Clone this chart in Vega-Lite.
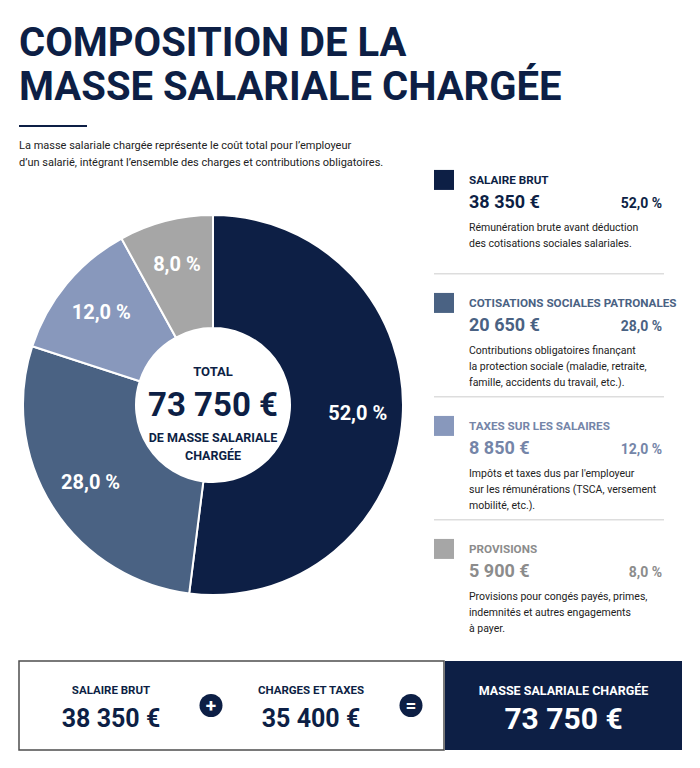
{
  "$schema": "https://vega.github.io/schema/vega-lite/v6.json",
  "background": "white",
  "padding": {"left": 18, "top": 24, "right": 10, "bottom": 10},
  "datasets": {
    "parts": [
      {"cat": "SALAIRE BRUT", "value": 52, "amount": "38 350 €", "pct": "52,0 %", "desc": ["Rémunération brute avant déduction", "des cotisations sociales salariales."]},
      {"cat": "COTISATIONS SOCIALES PATRONALES", "value": 28, "amount": "20 650 €", "pct": "28,0 %", "desc": ["Contributions obligatoires finançant", "la protection sociale (maladie, retraite,", "famille, accidents du travail, etc.)."]},
      {"cat": "TAXES SUR LES SALAIRES", "value": 12, "amount": "8 850 €", "pct": "12,0 %", "desc": ["Impôts et taxes dus par l'employeur", "sur les rémunérations (TSCA, versement", "mobilité, etc.)."]},
      {"cat": "PROVISIONS", "value": 8, "amount": "5 900 €", "pct": "8,0 %", "desc": ["Provisions pour congés payés, primes,", "indemnités et autres engagements", "à payer."]}
    ],
    "center": [{"label": "TOTAL", "amount": "73 750 €", "caption": ["DE MASSE SALARIALE", "CHARGÉE"]}],
    "banner": [
      {"item": "SALAIRE BRUT", "kind": "part", "amount": "38 350 €"},
      {"item": "+", "kind": "op"},
      {"item": "CHARGES ET TAXES", "kind": "part", "amount": "35 400 €"},
      {"item": "=", "kind": "op"}
    ],
    "result": [{"label": "MASSE SALARIALE CHARGÉE", "amount": "73 750 €"}],
    "underline": [{"name": "underline"}]
  },
  "title": {
    "text": ["COMPOSITION DE LA", "MASSE SALARIALE CHARGÉE"],
    "anchor": "start",
    "frame": "group",
    "font": "Roboto",
    "fontSize": 40,
    "fontWeight": "bold",
    "color": "#0d1f45",
    "lineHeight": 44,
    "offset": 17
  },
  "spacing": 0,
  "vconcat": [
    {
      "data": {"name": "underline"},
      "width": 68,
      "height": 2,
      "view": {"fill": "#0d1f45", "stroke": null},
      "mark": {"type": "rect", "color": "#0d1f45"},
      "encoding": {},
      "title": {
        "text": ["La masse salariale chargée représente le coût total pour l’employeur", "d’un salarié, intégrant l’ensemble des charges et contributions obligatoires."],
        "orient": "bottom",
        "anchor": "start",
        "frame": "bounds",
        "font": "Roboto",
        "fontSize": 11,
        "fontWeight": "normal",
        "color": "#222222",
        "lineHeight": 17,
        "offset": 13
      }
    },
    {
      "spacing": 26,
      "hconcat": [
        {
          "width": 388,
          "height": 474,
          "layer": [
            {
              "data": {"name": "parts"},
              "mark": {"type": "arc", "outerRadius": 190, "innerRadius": 77, "stroke": "white", "strokeWidth": 2},
              "encoding": {
                "theta": {"field": "value", "type": "quantitative", "stack": true},
                "order": {"field": "value", "sort": "descending"},
                "color": {"field": "cat", "type": "nominal", "legend": null,
                  "scale": {"domain": ["SALAIRE BRUT", "COTISATIONS SOCIALES PATRONALES", "TAXES SUR LES SALAIRES", "PROVISIONS"], "range": ["#0d1f45", "#4a6283", "#8898bc", "#a6a6a6"]}}
              }
            },
            {
              "data": {"name": "parts"},
              "mark": {"type": "text", "radius": 145, "fill": "white", "fontSize": 20, "fontWeight": "bold"},
              "encoding": {
                "theta": {"field": "value", "type": "quantitative", "stack": true},
                "order": {"field": "value", "sort": "descending"},
                "text": {"field": "pct"}
              }
            },
            {
              "data": {"name": "center"},
              "mark": {"type": "text", "dy": -33, "fontSize": 13, "fontWeight": "bold", "fill": "#0d1f45"},
              "encoding": {"text": {"field": "label"}}
            },
            {
              "data": {"name": "center"},
              "mark": {"type": "text", "dy": 1, "fontSize": 33, "fontWeight": "bold", "fill": "#0d1f45"},
              "encoding": {"text": {"field": "amount"}}
            },
            {
              "data": {"name": "center"},
              "mark": {"type": "text", "dy": 27, "baseline": "top", "lineHeight": 18, "fontSize": 12.5, "fontWeight": "bold", "fill": "#0d1f45"},
              "encoding": {"text": {"field": "caption"}}
            }
          ]
        },
        {
          "width": 230,
          "height": 492,
          "data": {"name": "parts"},
          "layer": [
            {
              "mark": {"type": "point", "shape": "square", "filled": true, "size": 400, "opacity": 1, "strokeWidth": 0},
              "encoding": {
                "x": {"value": 10},
                "y": {"field": "cat", "type": "nominal", "sort": null, "axis": null, "bandPosition": 0.097, "scale": {"type": "band", "paddingInner": 0, "paddingOuter": 0}},
                "color": {"field": "cat", "type": "nominal", "legend": null,
                  "scale": {"domain": ["SALAIRE BRUT", "COTISATIONS SOCIALES PATRONALES", "TAXES SUR LES SALAIRES", "PROVISIONS"], "range": ["#0d1f45", "#4a6283", "#8898bc", "#a6a6a6"]}}
              }
            },
            {
              "mark": {"type": "text", "align": "left", "dx": -80, "fontSize": 11.7, "fontWeight": "bold"},
              "encoding": {
                "y": {"field": "cat", "type": "nominal", "sort": null, "axis": null, "bandPosition": 0.097},
                "text": {"field": "cat"},
                "fill": {"field": "cat", "type": "nominal", "legend": null,
                  "scale": {"domain": ["SALAIRE BRUT", "COTISATIONS SOCIALES PATRONALES", "TAXES SUR LES SALAIRES", "PROVISIONS"], "range": ["#0d1f45", "#4a6283", "#7585a8", "#8c8c8c"]}}
              }
            },
            {
              "mark": {"type": "text", "align": "left", "dx": -80, "fontSize": 18, "fontWeight": "bold"},
              "encoding": {
                "y": {"field": "cat", "type": "nominal", "sort": null, "axis": null, "bandPosition": 0.285},
                "text": {"field": "amount"},
                "fill": {"field": "cat", "type": "nominal", "legend": null}
              }
            },
            {
              "mark": {"type": "text", "align": "right", "dx": 113, "fontSize": 14, "fontWeight": "bold"},
              "encoding": {
                "y": {"field": "cat", "type": "nominal", "sort": null, "axis": null, "bandPosition": 0.293},
                "text": {"field": "pct"},
                "fill": {"field": "cat", "type": "nominal", "legend": null}
              }
            },
            {
              "mark": {"type": "text", "align": "left", "baseline": "top", "dx": -80, "fontSize": 10.5, "lineHeight": 15.7, "fill": "#222222"},
              "encoding": {
                "y": {"field": "cat", "type": "nominal", "sort": null, "axis": null, "bandPosition": 0.451},
                "text": {"field": "desc"}
              }
            },
            {
              "transform": [{"filter": "datum.cat !== 'PROVISIONS'"}],
              "mark": {"type": "rule", "color": "#dddddd", "strokeWidth": 1.5},
              "encoding": {
                "y": {"field": "cat", "type": "nominal", "sort": null, "axis": null, "bandPosition": 0.86}
              }
            }
          ]
        }
      ]
    },
    {
      "spacing": 0,
      "hconcat": [
        {
          "width": 425,
          "height": 89,
          "data": {"name": "banner"},
          "view": {"stroke": "#4d4d4d", "strokeWidth": 1.5, "fill": "white"},
          "encoding": {
            "x": {"field": "item", "type": "nominal", "axis": null,
              "scale": {"type": "point", "domain": ["SALAIRE BRUT", "+", "CHARGES ET TAXES", "="], "padding": 0.625, "align": 0.736}}
          },
          "layer": [
            {
              "transform": [{"filter": "datum.kind === 'part'"}],
              "mark": {"type": "text", "dy": -15, "fontSize": 11.5, "fontWeight": "bold"},
              "encoding": {
                "text": {"field": "item"},
                "fill": {"field": "item", "type": "nominal", "legend": null, "scale": {"domain": ["SALAIRE BRUT", "CHARGES ET TAXES"], "range": ["#13223f", "#4d5f7d"]}}
              }
            },
            {
              "transform": [{"filter": "datum.kind === 'part'"}],
              "mark": {"type": "text", "dy": 13, "fontSize": 25, "fontWeight": "bold"},
              "encoding": {
                "text": {"field": "amount"},
                "fill": {"field": "item", "type": "nominal", "legend": null}
              }
            },
            {
              "transform": [{"filter": "datum.kind === 'op'"}],
              "mark": {"type": "point", "shape": "circle", "filled": true, "size": 530, "color": "#0d1f45", "opacity": 1, "strokeWidth": 0}
            },
            {
              "transform": [{"filter": "datum.kind === 'op'"}],
              "mark": {"type": "text", "fill": "white", "fontSize": 19, "fontWeight": "bold"},
              "encoding": {"text": {"field": "item"}}
            }
          ]
        },
        {
          "width": 237,
          "height": 89,
          "data": {"name": "result"},
          "view": {"fill": "#0d1f45", "stroke": null},
          "layer": [
            {
              "mark": {"type": "text", "dy": -15, "fontSize": 12.5, "fontWeight": "bold", "fill": "white"},
              "encoding": {"text": {"field": "label"}}
            },
            {
              "mark": {"type": "text", "dy": 14, "fontSize": 30, "fontWeight": "bold", "fill": "white"},
              "encoding": {"text": {"field": "amount"}}
            }
          ]
        }
      ]
    }
  ],
  "config": {
    "view": {"stroke": null},
    "font": "Roboto"
  }
}
